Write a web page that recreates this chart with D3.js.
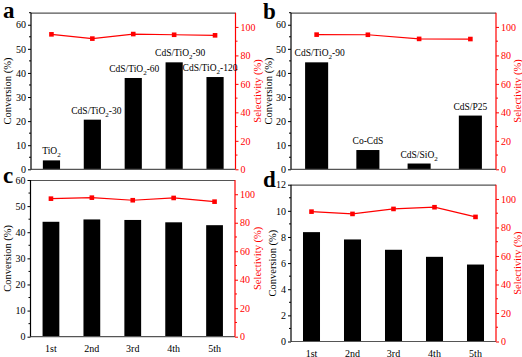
<!DOCTYPE html>
<html>
<head>
<meta charset="utf-8">
<script src="https://cdn.jsdelivr.net/npm/d3@7"></script>
<style>
    body { margin: 0; background: #fff; }
    text { font-family: "Liberation Serif", "Times New Roman", serif; }
</style>
</head>
<body>
<svg id="chart" width="522" height="357"></svg>
<script>
// panel a
let catsA = ["TiO_2", "CdS/TiO_2-30", "CdS/TiO_2-60", "CdS/TiO_2-90", "CdS/TiO_2-120"];
let convA = [3.7, 20.6, 37.9, 44.4, 38.3];
let selA = [94.8, 91.8, 95.0, 94.5, 94.1];
// panel b
let catsB = ["CdS/TiO_2-90", "Co-CdS", "CdS/SiO_2", "CdS/P25"];
let convB = [44.4, 8.0, 2.4, 22.3];
let selB = [94.6, 94.5, 91.6, 91.5];
// panels c and d (recycling runs)
let cycles = ["1st", "2nd", "3rd", "4th", "5th"];
let convC = [44.0, 44.9, 44.7, 43.8, 42.7];
let selC = [96.9, 97.6, 95.8, 97.4, 94.8];
let convD = [8.37, 7.81, 7.02, 6.48, 5.89];
let selD = [91.1, 89.5, 93.0, 94.2, 87.4];
// tick labels
let ticksConv60 = [0, 10, 20, 30, 40, 50, 60];
let ticksConv12 = [0, 2, 4, 6, 8, 10, 12];
let ticksSel = [0, 20, 40, 60, 80, 100];

let red = "#ff0000";
let svg = d3.select("#chart");

function addRich(sel, str) {
    // "_2" -> subscript 2
    let parts = str.split(/_(\d)/);
    let after = false;
    parts.forEach((p, i) => {
        if (p === "") return;
        if (i % 2 === 1) {
            sel.append("tspan").attr("dy", 3).style("font-size", "7px").text(p);
            after = true;
        } else {
            let t = sel.append("tspan").text(p);
            if (after) t.attr("dy", -3);
            after = false;
        }
    });
}

function drawPanel(p) {
    let g = svg.append("g");
    let x = d3.scaleBand()
        .domain(p.cats)
        .range([p.left, p.right])
        .paddingInner(p.pad)
        .paddingOuter(p.pad / 2);
    let y = d3.scaleLinear().domain([0, p.leftMax]).range([p.bottom, p.top]);
    let y2 = d3.scaleLinear().domain([0, 110]).range([p.bottom, p.top]);

    // bars
    g.selectAll("rect.bar")
        .data(p.conv).enter()
        .append("rect")
        .attr("class", "bar")
        .attr("x", (d, i) => x(p.cats[i]))
        .attr("y", d => y(d))
        .attr("width", x.bandwidth())
        .attr("height", d => y(0) - y(d))
        .attr("fill", "#000");

    // frame top / bottom
    g.append("line").attr("x1", p.left).attr("x2", p.right).attr("y1", p.top + 0.5).attr("y2", p.top + 0.5)
        .attr("stroke", "#555").attr("stroke-width", 1.2);
    g.append("line").attr("x1", p.left).attr("x2", p.right).attr("y1", p.bottom).attr("y2", p.bottom)
        .attr("stroke", "#555").attr("stroke-width", 1.2);

    // left axis
    let minorL = d3.range(0, p.leftMax + 0.001, p.minor).filter(v => !p.leftTicks.includes(v));
    let yAxis = d3.axisLeft(y).tickValues(p.leftTicks).tickSize(3).tickPadding(2).tickSizeOuter(0);
    let ga = g.append("g").attr("transform", `translate(${p.left},0)`).call(yAxis);
    ga.select(".domain").attr("stroke", "#000").attr("d", `M0,${p.top}V${p.bottom}`).attr("stroke-width", 1.2);
    ga.selectAll("text").style("font-size", "10px").attr("fill", "#000");
    ga.selectAll("line").attr("stroke", "#000");
    g.selectAll("line.minl").data(minorL).enter().append("line")
        .attr("class", "minl")
        .attr("x1", p.left - 2).attr("x2", p.left)
        .attr("y1", d => y(d)).attr("y2", d => y(d))
        .attr("stroke", "#000");

    // right axis
    let minorR = d3.range(10, 110, 20);
    let yAxis2 = d3.axisRight(y2).tickValues(ticksSel).tickSize(3).tickPadding(2).tickSizeOuter(0);
    let gr = g.append("g").attr("transform", `translate(${p.right},0)`).call(yAxis2);
    gr.select(".domain").attr("stroke", red).attr("d", `M0,${p.top}V${p.bottom}`).attr("stroke-width", 1.2);
    gr.selectAll("text").style("font-size", "10px").attr("fill", red);
    gr.selectAll("line").attr("stroke", red);
    g.selectAll("line.minr").data(minorR).enter().append("line")
        .attr("class", "minr")
        .attr("x1", p.right).attr("x2", p.right + 2)
        .attr("y1", d => y2(d)).attr("y2", d => y2(d))
        .attr("stroke", red);

    // selectivity line
    let line = d3.line()
        .x((d, i) => x(p.cats[i]) + x.bandwidth() / 2)
        .y(d => y2(d));
    g.append("path")
        .datum(p.sel)
        .attr("d", line)
        .attr("fill", "none")
        .attr("stroke", red)
        .attr("stroke-width", 1.2);
    g.selectAll("rect.mk")
        .data(p.sel).enter()
        .append("rect")
        .attr("class", "mk")
        .attr("x", (d, i) => x(p.cats[i]) + x.bandwidth() / 2 - 2.3)
        .attr("y", d => y2(d) - 2.3)
        .attr("width", 4.6)
        .attr("height", 4.6)
        .attr("fill", red);

    // category labels
    if (p.barLabels) {
        p.cats.forEach((c, i) => {
            let t = g.append("text")
                .attr("x", x(c) + x.bandwidth() / 2 + p.shift[i])
                .attr("y", y(p.conv[i]) - 6)
                .attr("text-anchor", "middle")
                .style("font-size", "9.5px");
            addRich(t, c);
        });
    } else {
        g.selectAll("text.xl")
            .data(p.cats).enter()
            .append("text")
            .attr("class", "xl")
            .attr("x", d => x(d) + x.bandwidth() / 2)
            .attr("y", p.bottom + 15)
            .attr("text-anchor", "middle")
            .style("font-size", "10px")
            .text(d => d);
    }

    // axis titles
    let mid = (p.top + p.bottom) / 2;
    g.append("text")
        .attr("transform", `translate(${p.titleL},${mid}) rotate(-90)`)
        .attr("text-anchor", "middle")
        .style("font-size", "10.5px")
        .text("Conversion (%)");
    g.append("text")
        .attr("transform", `translate(${p.titleR},${mid}) rotate(-90)`)
        .attr("text-anchor", "middle")
        .style("font-size", "10.5px")
        .attr("fill", red)
        .text("Selectivity (%)");

    // panel letter
    g.append("text")
        .attr("x", p.lx)
        .attr("y", p.ly)
        .style("font-size", "23px")
        .style("font-weight", "bold")
        .text(p.letter);
}

drawPanel({
    cats: catsA, conv: convA, sel: selA, leftMax: 65, leftTicks: ticksConv60, minor: 5,
    left: 31, right: 235.5, top: 12.7, bottom: 169.3, pad: 0.58,
    barLabels: true, shift: [0, 4, 1, 6, -5],
    titleL: 11, titleR: 260.5, letter: "a", lx: 3, ly: 18
});
drawPanel({
    cats: catsB, conv: convB, sel: selB, leftMax: 65, leftTicks: ticksConv60, minor: 5,
    left: 291, right: 496, top: 12.7, bottom: 169.3, pad: 0.55,
    barLabels: true, shift: [3, 0, 0, 0],
    titleL: 272, titleR: 521, letter: "b", lx: 263, ly: 19
});
drawPanel({
    cats: cycles, conv: convC, sel: selC, leftMax: 60, leftTicks: ticksConv60, minor: 5,
    left: 30.5, right: 235, top: 180, bottom: 336.7, pad: 0.59,
    barLabels: false,
    titleL: 11, titleR: 260.5, letter: "c", lx: 3, ly: 183
});
drawPanel({
    cats: cycles, conv: convD, sel: selD, leftMax: 12, leftTicks: ticksConv12, minor: 1,
    left: 291, right: 496, top: 184.7, bottom: 341.5, pad: 0.585,
    barLabels: false,
    titleL: 276, titleR: 521, letter: "d", lx: 263, ly: 186.5
});
</script>
</body>
</html>
